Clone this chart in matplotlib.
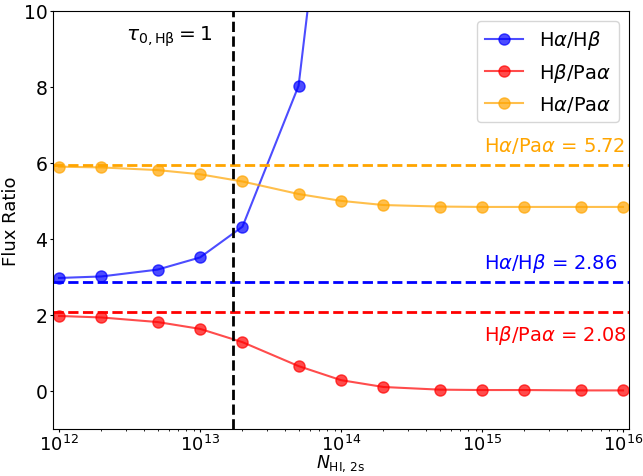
import numpy as np
import matplotlib
matplotlib.use("Agg")
import matplotlib.pyplot as plt

# column density grid
n_hi = [1e12, 2e12, 5e12, 1e13, 2e13, 5e13, 1e14, 2e14, 5e14, 1e15, 2e15, 5e15, 1e16]

# flux ratios (Ha/Hb leaves the plot above 5e13)
ha_hb = [2.97, 3.01, 3.19, 3.51, 4.32, 8.03, 17.4, 35.0, 80.0, 150.0, 250.0, 500.0, 900.0]
hb_paa = [1.97, 1.93, 1.81, 1.63, 1.28, 0.65, 0.28, 0.10, 0.03, 0.02, 0.02, 0.01, 0.01]
ha_paa = [5.90, 5.88, 5.81, 5.70, 5.51, 5.18, 5.00, 4.89, 4.85, 4.84, 4.84, 4.84, 4.84]

# case B reference values
caseb_ha_hb = 2.86
caseb_hb_paa = 2.08
caseb_ha_paa = caseb_ha_hb * caseb_hb_paa
tau_one = 1.71e13

FS = 14

fig, ax = plt.subplots(figsize=(6.43, 4.77), dpi=100)
fig.subplots_adjust(left=0.0824, right=0.978, top=0.975, bottom=0.099)

ax.plot(n_hi, ha_hb, 'o-', color='blue', alpha=0.7, ms=8, label=r'H$\alpha$/H$\beta$')
ax.plot(n_hi, hb_paa, 'o-', color='red', alpha=0.7, ms=8, label=r'H$\beta$/Pa$\alpha$')
ax.plot(n_hi, ha_paa, 'o-', color='orange', alpha=0.7, ms=8, label=r'H$\alpha$/Pa$\alpha$')

ax.axhline(caseb_ha_hb, color='blue', ls='--', lw=2)
ax.axhline(caseb_hb_paa, color='red', ls='--', lw=2)
ax.axhline(caseb_ha_paa, color='orange', ls='--', lw=2)
ax.axvline(tau_one, color='k', ls='--', lw=2)

ax.text(1.03e15, 6.3, r'H$\alpha$/Pa$\alpha$ = 5.72', color='orange', fontsize=FS)
ax.text(1.03e15, 3.22, r'H$\alpha$/H$\beta$ = 2.86', color='blue', fontsize=FS)
ax.text(1.03e15, 1.35, r'H$\beta$/Pa$\alpha$ = 2.08', color='red', fontsize=FS)
ax.text(3.0e12, 9.25, r'$\tau_{0,\rm H\beta} = 1$', color='k', fontsize=14.5)

ax.set_xscale('log')
ax.set_xlim(9.06e11, 1.1e16)
ax.set_ylim(-1, 10)
ax.set_yticks([0, 2, 4, 6, 8, 10])
ax.tick_params(which='major', labelsize=13.5, length=2.5, pad=1.5)
ax.tick_params(axis='x', which='major', labelsize=13, pad=1)
ax.tick_params(which='minor', length=1.5)
ax.set_xlabel(r'$N_{\rm HI,\,2s}$', fontsize=12.5, labelpad=-1)
ax.set_ylabel('Flux Ratio', fontsize=13, labelpad=3)
ax.legend(loc='upper right', fontsize=FS)

fig.savefig('out.png', dpi=100)
